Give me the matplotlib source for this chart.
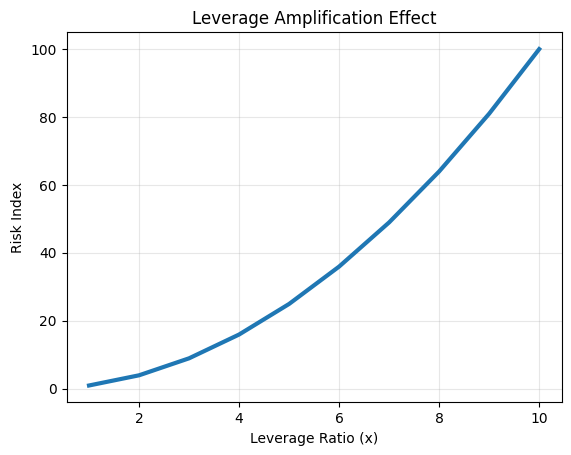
import matplotlib
matplotlib.use("Agg")
import matplotlib.pyplot as plt

# ---- DATA ----
leverage = [1, 2, 3, 4, 5, 6, 7, 8, 9, 10]
risk_index = [1, 4, 9, 16, 25, 36, 49, 64, 81, 100]

# ---- PLOT ----
fig, ax = plt.subplots(figsize=(5.71, 4.55), dpi=100)
fig.subplots_adjust(left=0.1165, right=0.9837, top=0.929, bottom=0.1158)

ax.plot(leverage, risk_index, linewidth=3, color="#1f77b4")
ax.set_xlabel("Leverage Ratio (x)")
ax.set_ylabel("Risk Index")
ax.set_title("Leverage Amplification Effect")
ax.grid(True, alpha=0.3)

fig.savefig("out.png", dpi=100)
